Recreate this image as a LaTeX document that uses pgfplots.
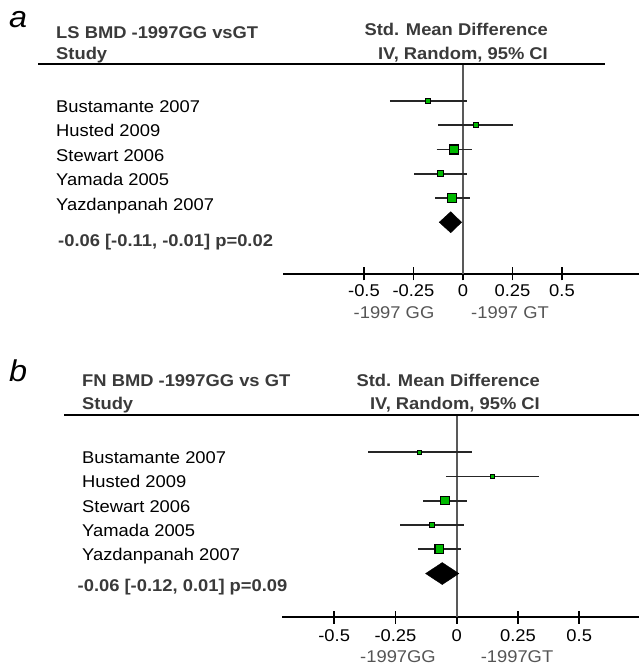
\documentclass[border=0pt]{standalone}
\usepackage{fontspec}
\setmainfont{Liberation Sans}[FakeStretch=1.08]
\usepackage{pgfplots}
\pgfplotsset{compat=1.18}

\definecolor{boxgreen}{RGB}{0,185,0}
\definecolor{hdr}{RGB}{58,58,58}
\definecolor{sub}{RGB}{85,85,85}
\newcommand\f{\fontsize{17}{20}\selectfont}

\pgfplotsset{
  forest/.style={
    scale only axis,
    axis x line*=bottom,
    axis y line=none,
    clip=false,
    xtick={-0.5,-0.25,0,0.25,0.5},
    xticklabels={-0.5,-0.25,0,0.25,0.5},
    tick align=center,
    major tick length=13pt,
    tick style={black, line width=1.6pt},
    axis line style={black, line width=1.8pt},
    xticklabel style={font=\f, anchor=base},
  },
  ci/.style={black!85, line width=1.8pt, no marks},
  box/.style={only marks, mark=square*, mark options={fill=boxgreen, draw=black, line width=1.1pt}},
  zero/.style={black!65, line width=1.9pt, no marks},
}

\begin{document}
\begin{tikzpicture}
\path[use as bounding box] (0,0) rectangle (639pt,669pt);

% ---- panel a : LS BMD
\begin{axis}[forest, at={(283pt,395pt)}, anchor=south west,
  width=356pt, height=210pt,
  xmin=-0.909, xmax=0.889, ymin=-8.134, ymax=0.526,
  xticklabel style={yshift=-16.5pt}]
\addplot[zero] coordinates {(0,0.526) (0,-8.134)};
% Bustamante 2007
\addplot[ci] coordinates {(-0.369,-1) (0.019,-1)};
\addplot[box, mark size=2.15pt] coordinates {(-0.177,-1)};
% Husted 2009
\addplot[ci] coordinates {(-0.125,-2) (0.254,-2)};
\addplot[box, mark size=2.5pt] coordinates {(0.064,-2)};
% Stewart 2006
\addplot[ci] coordinates {(-0.133,-3) (0.044,-3)};
\addplot[box, mark size=4.5pt] coordinates {(-0.045,-3)};
% Yamada 2005
\addplot[ci] coordinates {(-0.246,-4) (0.022,-4)};
\addplot[box, mark size=3pt] coordinates {(-0.113,-4)};
% Yazdanpanah 2007
\addplot[ci] coordinates {(-0.141,-5) (0.035,-5)};
\addplot[box, mark size=4.5pt] coordinates {(-0.054,-5)};
% pooled
\addplot[fill=black, draw=black] coordinates
  {(-0.120,-6) (-0.062,-5.567) (-0.007,-6) (-0.062,-6.433)} -- cycle;
\end{axis}

% ---- panel b : FN BMD
\begin{axis}[forest, at={(282pt,51.7pt)}, anchor=south west,
  width=357pt, height=202.3pt,
  xmin=-0.713, xmax=0.744, ymin=-7.804, ymax=0.538,
  xticklabel style={yshift=-18pt}]
\addplot[zero] coordinates {(0,0.538) (0,-7.804)};
\addplot[ci] coordinates {(-0.361,-1) (0.061,-1)};
\addplot[box, mark size=2.15pt] coordinates {(-0.153,-1)};
\addplot[ci] coordinates {(-0.044,-2) (0.337,-2)};
\addplot[box, mark size=2pt] coordinates {(0.145,-2)};
\addplot[ci] coordinates {(-0.136,-3) (0.041,-3)};
\addplot[box, mark size=4.15pt] coordinates {(-0.048,-3)};
\addplot[ci] coordinates {(-0.231,-4) (0.031,-4)};
\addplot[box, mark size=2.85pt] coordinates {(-0.101,-4)};
\addplot[ci] coordinates {(-0.158,-5) (0.018,-5)};
\addplot[box, mark size=4.35pt] coordinates {(-0.071,-5)};
\addplot[fill=black, draw=black] coordinates
  {(-0.127,-6) (-0.059,-5.546) (0.009,-6) (-0.059,-6.454)} -- cycle;
\end{axis}

% header rules
\draw[black, line width=1.7pt] (38pt,605pt) -- (605pt,605pt);
\draw[black, line width=1.7pt] (64pt,254pt) -- (639pt,254pt);

% panel a text
\node[anchor=base west, inner sep=0] at (9pt,641pt) {\fontsize{30}{30}\selectfont\itshape a};
\node[anchor=base west, inner sep=0, text=hdr] at (56pt,630pt) {\f\bfseries LS BMD -1997GG vsGT};
\node[anchor=base west, inner sep=0, text=hdr] at (56pt,609.5pt) {\f\bfseries Study};
\node[anchor=base east, inner sep=0, text=hdr] at (548pt,633.5pt) {\f\bfseries Std. Mean Difference};
\node[anchor=base east, inner sep=0, text=hdr] at (548pt,609.5pt) {\f\bfseries IV, Random, 95\% CI};
\node[anchor=base west, inner sep=0] at (56pt,556.5pt) {\f Bustamante 2007};
\node[anchor=base west, inner sep=0] at (56pt,532pt) {\f Husted 2009};
\node[anchor=base west, inner sep=0] at (56pt,507.5pt) {\f Stewart 2006};
\node[anchor=base west, inner sep=0] at (56pt,483pt) {\f Yamada 2005};
\node[anchor=base west, inner sep=0] at (56pt,458.5pt) {\f Yazdanpanah 2007};
\node[anchor=base west, inner sep=0, text=hdr] at (58pt,422.5pt) {\f\bfseries -0.06 [-0.11, -0.01] p=0.02};
\node[anchor=base, inner sep=0, text=sub] at (394pt,350pt) {\f -1997 GG};
\node[anchor=base, inner sep=0, text=sub] at (510pt,350pt) {\f -1997 GT};

% panel b text
\node[anchor=base west, inner sep=0] at (9pt,287pt) {\fontsize{30}{30}\selectfont\itshape b};
\node[anchor=base west, inner sep=0, text=hdr] at (82pt,282pt) {\f\bfseries FN BMD -1997GG vs GT};
\node[anchor=base west, inner sep=0, text=hdr] at (82pt,259pt) {\f\bfseries Study};
\node[anchor=base east, inner sep=0, text=hdr] at (540pt,282.3pt) {\f\bfseries Std. Mean Difference};
\node[anchor=base east, inner sep=0, text=hdr] at (540pt,259pt) {\f\bfseries IV, Random, 95\% CI};
\node[anchor=base west, inner sep=0] at (82pt,205.2pt) {\f Bustamante 2007};
\node[anchor=base west, inner sep=0] at (82pt,181pt) {\f Husted 2009};
\node[anchor=base west, inner sep=0] at (82pt,156.7pt) {\f Stewart 2006};
\node[anchor=base west, inner sep=0] at (82pt,132.5pt) {\f Yamada 2005};
\node[anchor=base west, inner sep=0] at (82pt,108.2pt) {\f Yazdanpanah 2007};
\node[anchor=base west, inner sep=0, text=hdr] at (77.5pt,77.5pt) {\f\bfseries -0.06 [-0.12, 0.01] p=0.09};
\node[anchor=base, inner sep=0, text=sub] at (398pt,6pt) {\f -1997GG};
\node[anchor=base, inner sep=0, text=sub] at (517pt,6pt) {\f -1997GT};
\end{tikzpicture}
\end{document}
